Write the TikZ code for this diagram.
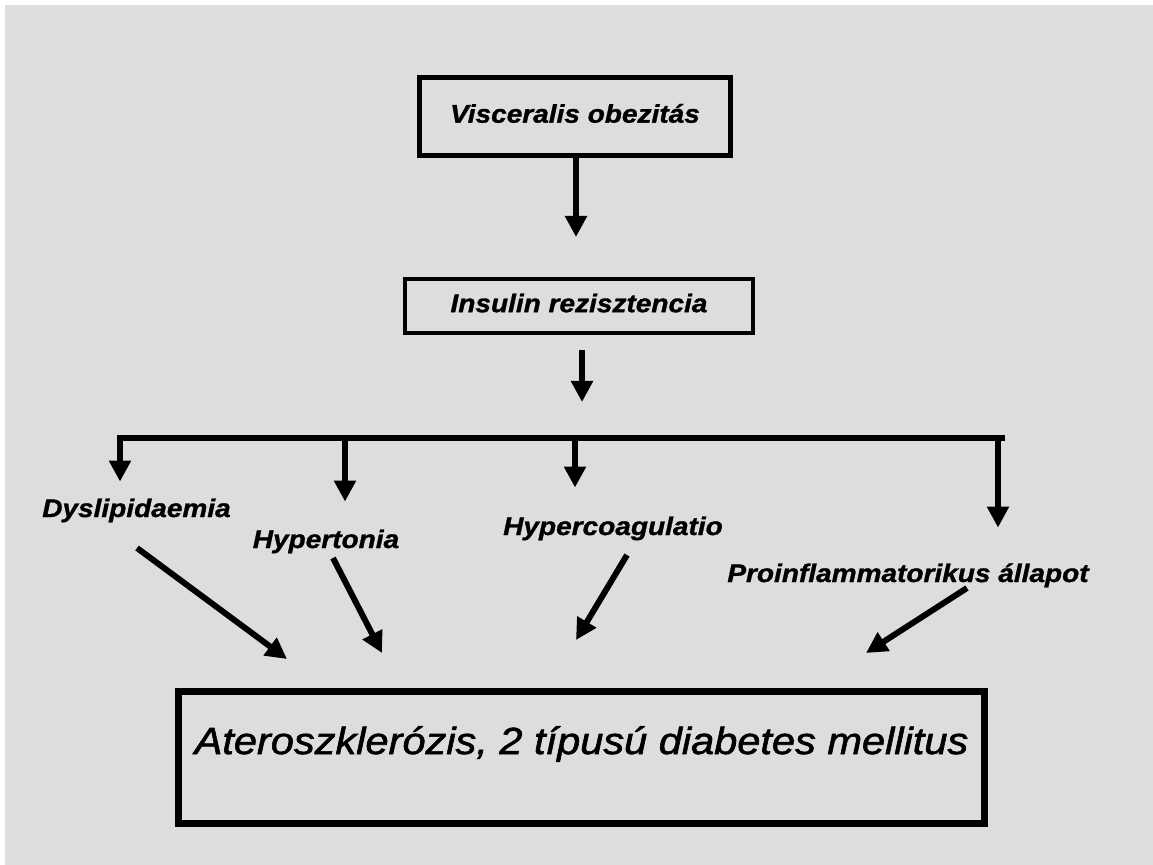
\documentclass[tikz,border=0pt]{standalone}
\usepackage{fontspec}
\setmainfont{Liberation Sans}[FakeStretch=1.1,FakeBold=1.2]
\newfontfamily\bigfont{Liberation Sans}[FakeStretch=1.1,FakeBold=1.6]
\usetikzlibrary{arrows.meta}
\definecolor{bggray}{HTML}{DDDDDD}
\tikzset{
  bx/.style={rectangle,draw=black,line width=2.6pt,inner sep=0pt,text height=10pt,text depth=3pt,
    font=\fontsize{14.5}{17}\selectfont\bfseries\itshape},
  bxb/.style={rectangle,draw=black,line width=4pt,inner sep=0pt,text height=0.5cm,text depth=0.64cm,
    font=\bigfont\fontsize{21.5}{25}\selectfont\itshape},
  lb/.style={anchor=base,inner sep=0pt,text height=10pt,text depth=3pt,
    font=\fontsize{14.5}{17}\selectfont\bfseries\itshape},
  lnk/.style={draw=black,line width=3.4pt},
  msg/.style={-{Triangle[length=12pt,width=12pt]},line width=3.4pt,draw=black},
}
\begin{document}
\begin{tikzpicture}[x=0.02cm,y=-0.02cm]
\useasboundingbox (0,0) rectangle (1153,865);
\fill[white] (0,0) rectangle (1153,865);
\fill[bggray] (5,5) rectangle (1153,865);
% the chain at the top
\node[bx,minimum width=6.22cm,minimum height=1.56cm] (vo) at (575,116.5) {Visceralis obezitás};
\node[bx,line width=2.3pt,minimum width=6.96cm,minimum height=1.08cm] (ir) at (579,306) {Insulin rezisztencia};
\node[bxb,minimum width=16.12cm,minimum height=2.64cm] (ath) at (581.5,757.5)
  {Ateroszklerózis, 2 típusú diabetes mellitus};
% the four consequences, set by their baselines
\node[lb] (dys) at (136.5,517) {Dyslipidaemia};
\node[lb] (hyt) at (326,548) {Hypertonia};
\node[lb] (hyc) at (613,535) {Hypercoagulatio};
\node[lb] (pro) at (908,582) {Proinflammatorikus állapot};
% the bar and the points where the drops leave it
\coordinate (bl) at (117,438); \coordinate (br) at (1005,438);
\coordinate (bm) at (582,438);
\coordinate (b1) at (120,438); \coordinate (b2) at (345,438);
\coordinate (b3) at (575,438); \coordinate (b4) at (998,438);
\draw[lnk] (bl) -- (br);
\draw[msg,shorten >=0.8cm] (vo.south -| 576,0) -- (ir.north -| 576,0);
\draw[msg,shorten <=0.3cm,shorten >=0.72cm] (ir.south -| bm) -- (bm);
\draw[msg,shorten >=0.35cm] (b1) -- (b1 |- dys.north);
\draw[msg,shorten >=0.57cm] (b2) -- (b2 |- hyt.north);
\draw[msg,shorten >=0.59cm] (b3) -- (b3 |- hyc.north);
\draw[msg,shorten >=0.73cm] (b4) -- (b4 |- pro.north);
% loose arrows down into the last box
\coordinate (s1) at (137,548); \coordinate (t1) at (287,659);
\coordinate (s2) at (333,558); \coordinate (t2) at (382,653);
\coordinate (s3) at (627,555); \coordinate (t3) at (576,640);
\coordinate (s4) at (967,588); \coordinate (t4) at (866,653);
\foreach \i in {1,...,4}
  \draw[msg] (s\i) -- (t\i);
\end{tikzpicture}
\end{document}
